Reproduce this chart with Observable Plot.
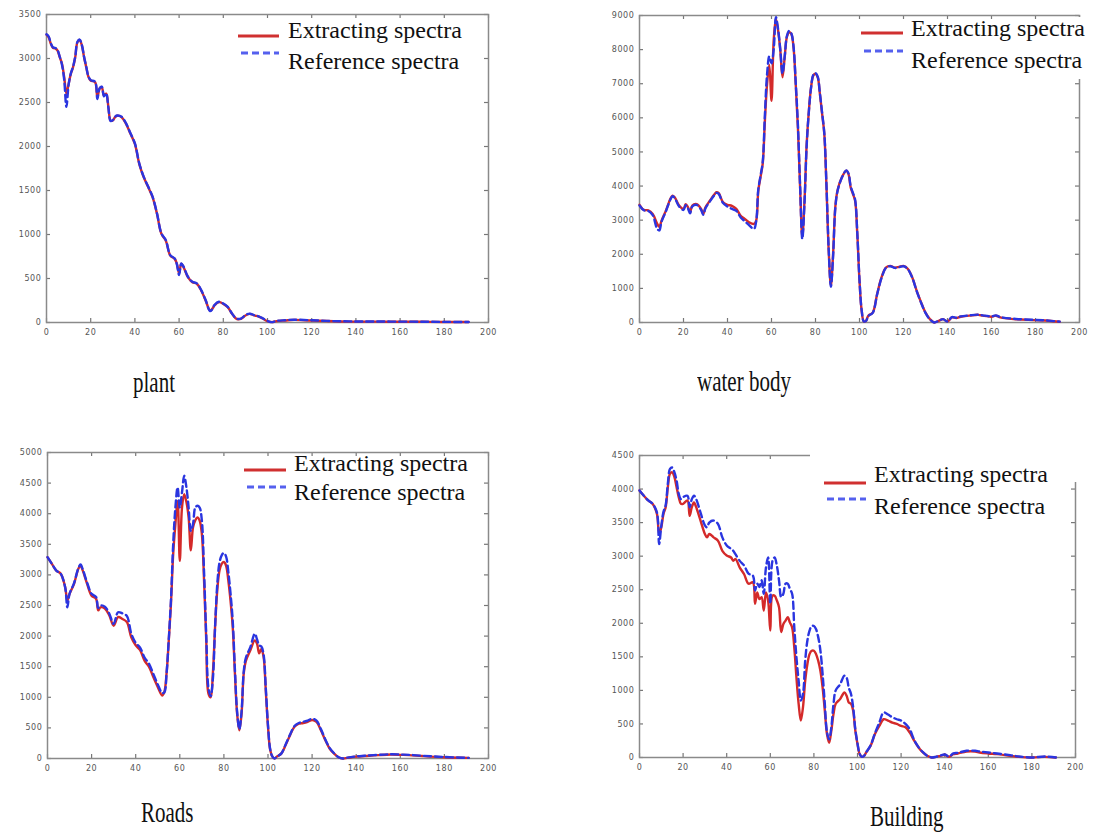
<!DOCTYPE html>
<html>
<head>
<meta charset="utf-8">
<script src="https://cdn.jsdelivr.net/npm/d3@7"></script>
<script src="https://cdn.jsdelivr.net/npm/@observablehq/plot@0.6"></script>
<style>
  html, body { margin: 0; padding: 0; background: #fff; }
  #root { position: relative; width: 1094px; height: 838px; overflow: hidden; background: #fff;
          font-family: "Liberation Serif", "Times New Roman", serif; }
  .panel { position: absolute; }
  .panel svg text { letter-spacing: 0.6px; }
  .caption { position: absolute; font-size: 21px; line-height: 21px; color: #111; white-space: nowrap;
             transform: scaleY(1.42); transform-origin: 0 17.6px; }
  .legtext { position: absolute; font-size: 24px; line-height: 24px; color: #111; white-space: nowrap; }
  .legbg { position: absolute; background: #fff; }
  .swatch { position: absolute; overflow: visible; }
</style>
</head>
<body>
<div id="root"></div>
<script>
// ---------- tick labels ----------
const xTicks = [0, 20, 40, 60, 80, 100, 120, 140, 160, 180, 200];
const plantYTicks = [0, 500, 1000, 1500, 2000, 2500, 3000, 3500];
const waterYTicks = [0, 1000, 2000, 3000, 4000, 5000, 6000, 7000, 8000, 9000];
const roadsYTicks = [0, 500, 1000, 1500, 2000, 2500, 3000, 3500, 4000, 4500, 5000];
const buildingYTicks = [0, 500, 1000, 1500, 2000, 2500, 3000, 3500, 4000, 4500];

const seriesNames = ["Extracting spectra", "Reference spectra"];
const captions = ["plant", "water body", "Roads", "Building"];

// ---------- plant ----------
const plantBands = [
  0,1,2,3,4,5,6,7,8,9,10,11,12,13,14,15,16,17,18,19,20,
  22,23,24,25,26,27,28,29,30,31,32,
  34,36,38,40,42,44,46,48,50,52,54,56,58,
  59,60,61,62,
  64,66,68,70,72,74,
  75,76,78,80,82,84,86,88,90,92,94,96,98,100,102,104,
  108,112,120,130,140,150,160,170,180,191];
const plantExtracting = [
  3270,3240,3165,3120,3115,3090,3015,2940,2790,2600,2710,2825,2900,3015,3185,3210,3150,3015,2900,2790,2750,
  2730,2560,2655,2675,2580,2600,2450,2295,2295,2333,2350,
  2333,2258,2145,2030,1800,1650,1540,1425,1235,1008,930,760,723,
  667,560,667,630,
  515,458,440,364,250,136,
  155,193,231,212,174,98,42,42,80,98,80,68,42,15,4,15,
  23,30,23,15,10,10,8,8,6,5];
const plantReference = [
  3275,3250,3170,3125,3120,3095,3020,2930,2760,2450,2700,2830,2905,3020,3190,3215,3155,3020,2905,2795,2755,
  2735,2540,2660,2680,2570,2605,2440,2290,2300,2338,2352,
  2338,2262,2150,2035,1805,1655,1545,1430,1240,1012,935,765,728,
  660,540,672,635,
  520,462,445,368,255,130,
  150,198,236,216,178,100,45,45,84,100,84,70,45,18,4,18,
  26,32,25,16,12,11,10,9,7,6];

// ---------- water body ----------
const waterBands = [
  0,2,4,6,8,9,10,12,14,15,16,18,20,21,22,23,24,26,28,29,30,32,34,35,36,38,40,42,44,46,48,50,52,53,
  54,55,56,57,58,59,60,61,62,63,64,65,66,67,68,69,70,71,72,73,74,75,76,77,78,79,80,81,82,83,84,85,86,87,88,89,90,
  92,94,95,96,97,98,99,100,101,102,103,104,106,108,110,112,114,116,118,120,122,124,126,128,130,132,134,136,138,140,
  142,144,146,150,154,156,160,162,164,170,180,186,191];
const waterExtracting = [
  3450,3300,3290,3180,2900,2800,2980,3280,3620,3720,3670,3430,3330,3470,3380,3230,3430,3470,3330,3180,3380,3570,3750,3820,3790,3520,3450,3420,3330,3130,3030,2930,2890,2980,
  3870,4260,4650,5920,7000,7550,6500,8270,8900,8560,7980,7190,7780,8370,8510,8460,8070,7000,5720,3960,2500,3570,5240,6210,6900,7240,7290,7190,6700,6120,5530,3960,2100,1080,2010,3380,3870,
  4260,4450,4350,3960,3770,3570,2590,1220,340,30,50,200,290,830,1320,1610,1660,1610,1630,1660,1570,1320,930,590,290,100,0,50,100,30,
  150,130,170,200,225,200,170,200,150,100,70,50,20];
const waterReference = [
  3430,3290,3270,3150,2750,2700,2950,3260,3600,3700,3650,3400,3300,3440,3350,3200,3400,3450,3300,3160,3350,3550,3730,3800,3770,3500,3400,3330,3270,3080,2960,2840,2740,2950,
  3900,4300,4700,6100,7290,7800,7600,8000,8950,8600,8000,7300,7800,8400,8550,8480,8100,7050,5800,4000,2450,3500,5200,6200,6900,7260,7310,7210,6720,6150,5550,4000,2150,1050,1950,3350,3850,
  4250,4460,4370,3990,3800,3600,2620,1250,350,30,50,190,280,820,1300,1600,1650,1600,1620,1650,1560,1310,920,580,280,90,0,50,100,30,
  160,140,180,210,230,210,180,210,160,110,75,55,25];

// ---------- roads ----------
const roadsBands = [
  0,2,4,6,8,9,10,12,14,15,16,18,20,22,23,24,26,28,30,32,34,36,38,40,42,44,46,48,50,52,53,
  54,55,56,57,58,59,60,61,62,63,64,65,66,67,68,69,70,71,72,73,74,75,76,77,78,79,80,81,82,83,84,85,86,87,88,89,90,
  92,94,95,96,97,98,99,100,101,102,103,104,106,108,110,112,114,116,118,120,122,124,126,128,130,132,134,136,
  140,144,150,156,160,164,170,180,191];
const roadsExtracting = [
  3290,3180,3070,3020,2800,2580,2690,2850,3100,3150,3070,2850,2660,2610,2420,2470,2450,2340,2170,2310,2280,2230,1980,1850,1770,1600,1500,1330,1170,1030,1090,
  1390,1930,2530,3340,3830,4210,3230,4100,4320,4190,3940,3400,3780,3890,3940,3890,3670,2910,1930,1060,1000,1390,2150,2750,3070,3180,3210,3150,2910,2580,2150,1390,730,460,730,1390,1600,
  1770,1930,1880,1720,1790,1660,1110,520,140,30,0,30,80,220,380,520,570,580,600,630,600,460,300,160,80,20,0,10,
  30,40,55,65,60,55,40,20,10];
const roadsReference = [
  3290,3180,3070,3020,2800,2470,2690,2860,3110,3170,3090,2870,2690,2640,2460,2500,2480,2370,2200,2390,2370,2330,2040,1890,1810,1650,1550,1380,1210,1070,1080,
  1390,1950,2600,3500,4100,4430,4100,4350,4620,4430,4100,3720,3830,4100,4130,4100,3890,3050,2000,1150,1020,1300,2150,2850,3200,3320,3360,3300,3050,2700,2250,1450,760,480,760,1420,1650,
  1820,2040,1950,1850,1830,1700,1150,540,150,30,0,30,80,230,390,530,580,600,620,650,620,480,310,170,85,20,0,15,
  35,45,60,70,65,60,45,25,10];

// ---------- building ----------
const buildingBands = [
  0,2,4,6,8,
  9,10,11,12,13,14,15,16,17,18,19,20,
  22,23,24,25,26,
  28,30,31,32,34,36,38,40,42,43,44,46,48,50,52,
  53,54,55,56,57,58,59,60,61,62,63,64,65,66,67,68,69,70,71,72,73,74,75,76,77,78,79,80,81,82,83,84,85,86,87,88,89,90,
  92,94,95,96,97,98,99,100,101,102,103,104,
  106,108,110,112,114,116,118,120,122,124,126,128,130,132,134,136,138,140,142,144,146,
  150,154,156,160,164,170,174,180,186,191];
const buildingExtracting = [
  3980,3900,3830,3780,3630,
  3330,3430,3630,3730,4030,4230,4250,4180,4030,3880,3780,3780,
  3830,3600,3730,3800,3730,
  3530,3330,3280,3330,3280,3230,3080,3010,2980,2930,2960,2830,2730,2590,2610,
  2290,2460,2360,2390,2190,2460,2340,1890,2410,2410,2340,2240,1870,1990,2040,2090,2010,1940,1640,1190,800,550,750,1140,1390,1540,1590,1590,1540,1440,1290,1040,700,350,220,400,650,800,
  870,970,920,820,800,700,400,200,50,10,25,75,
  175,350,470,570,550,520,500,470,450,370,250,150,75,25,0,10,25,40,10,50,60,
  90,90,75,60,50,25,10,0,10,0];
const buildingReference = [
  3980,3900,3830,3780,3650,
  3180,3450,3660,3760,4080,4300,4320,4250,4130,3930,3850,3880,
  3900,3730,3850,3900,3850,
  3650,3460,3430,3500,3530,3480,3280,3160,3110,3080,3030,2930,2860,2740,2710,
  2490,2590,2540,2640,2440,2830,2980,2290,2930,2980,2860,2640,2390,2440,2590,2590,2510,2440,1940,1490,1140,850,950,1440,1740,1890,1960,1960,1910,1790,1590,1240,800,380,270,450,800,1000,
  1090,1220,1190,1040,950,750,420,210,55,10,25,80,
  180,360,520,670,640,600,570,550,500,420,260,155,80,25,0,10,30,45,15,60,70,
  100,100,90,75,60,35,15,0,15,0];

// ---------- layout (positions / styles only) ----------
const RED = "#d42a2a", BLUE = "#2a35e0";
const panels = [
  { bands: plantBands, ext: plantExtracting, ref: plantReference, yTicks: plantYTicks, yMax: 3500,
    left: 0, top: 0, width: 498, height: 338, ml: 46, mr: 10, mt: 14, mb: 16,
    caption: { text: captions[0], left: 133, top: 375 },
    legend: { redY: 36, blueY: 53, x1: 238, x2: 279, textLeft: 288, t1: 18, t2: 49 } },
  { bands: waterBands, ext: waterExtracting, ref: waterReference, yTicks: waterYTicks, yMax: 9000,
    left: 590, top: 0, width: 500, height: 338, ml: 49, mr: 11, mt: 15, mb: 16,
    caption: { text: captions[1], left: 697, top: 374 },
    legend: { redY: 33, blueY: 51, x1: 861, x2: 903, textLeft: 911, t1: 16, t2: 48,
              bg: { left: 1070, top: 17, width: 24, height: 62 } } },
  { bands: roadsBands, ext: roadsExtracting, ref: roadsReference, yTicks: roadsYTicks, yMax: 5000,
    left: 0, top: 440, width: 498, height: 336, ml: 47, mr: 10, mt: 12, mb: 18,
    caption: { text: captions[2], left: 141, top: 805 },
    legend: { redY: 470, blueY: 487, x1: 244, x2: 286, textLeft: 294, t1: 451, t2: 480 } },
  { bands: buildingBands, ext: buildingExtracting, ref: buildingReference, yTicks: buildingYTicks, yMax: 4500,
    left: 590, top: 440, width: 496, height: 336, ml: 49, mr: 11, mt: 15, mb: 19,
    caption: { text: captions[3], left: 870, top: 809 },
    legend: { redY: 483, blueY: 499, x1: 824, x2: 866, textLeft: 874, t1: 462, t2: 494,
              bg: { left: 810, top: 452, width: 284, height: 30 } } }
];

const root = document.getElementById("root");

function makePlot(p) {
  const innerH = p.height - p.mt - p.mb;
  const innerW = p.width - p.ml - p.mr;
  const tickLen = 4;
  return Plot.plot({
    width: p.width, height: p.height,
    marginLeft: p.ml, marginRight: p.mr, marginTop: p.mt, marginBottom: p.mb,
    x: { domain: [0, 200] },
    y: { domain: [0, p.yMax] },
    style: { background: "transparent", fontFamily: "DejaVu Sans, sans-serif", fontSize: "8px", overflow: "visible" },
    marks: [
      Plot.axisX({ ticks: xTicks, tickSize: 0, tickPadding: 7, label: null, tickFormat: d3.format("d"), fill: "#555" }),
      Plot.axisY({ ticks: p.yTicks, tickSize: 0, tickPadding: 5, label: null, tickFormat: d3.format("d"), fill: "#555" }),
      Plot.tickX(xTicks, { x: d => d, insetTop: innerH - tickLen, stroke: "#777", strokeWidth: 1.2 }),
      Plot.tickX(xTicks, { x: d => d, insetBottom: innerH - tickLen, stroke: "#777", strokeWidth: 1.2 }),
      Plot.tickY(p.yTicks, { y: d => d, insetRight: innerW - tickLen, stroke: "#777", strokeWidth: 1.2 }),
      Plot.tickY(p.yTicks, { y: d => d, insetLeft: innerW - tickLen, stroke: "#777", strokeWidth: 1.2 }),
      Plot.frame({ stroke: "#8a8a8a", strokeWidth: 1.5 }),
      Plot.line(p.ext, { x: p.bands, y: p.ext, stroke: RED, strokeWidth: 2.4, curve: "catmull-rom" }),
      Plot.line(p.ref, { x: p.bands, y: p.ref, stroke: BLUE, strokeWidth: 2.4, strokeDasharray: "7,4", curve: "catmull-rom" })
    ]
  });
}

function swatch(x1, x2, y, color, dash) {
  const ns = "http://www.w3.org/2000/svg";
  const s = document.createElementNS(ns, "svg");
  s.setAttribute("class", "swatch");
  s.setAttribute("width", x2 - x1);
  s.setAttribute("height", 6);
  s.style.left = x1 + "px";
  s.style.top = (y - 3) + "px";
  const l = document.createElementNS(ns, "line");
  l.setAttribute("x1", 0); l.setAttribute("x2", x2 - x1);
  l.setAttribute("y1", 3); l.setAttribute("y2", 3);
  l.setAttribute("stroke", color);
  l.setAttribute("stroke-width", 3);
  if (dash) l.setAttribute("stroke-dasharray", dash);
  s.appendChild(l);
  return s;
}

for (const p of panels) {
  const holder = document.createElement("div");
  holder.className = "panel";
  holder.style.left = p.left + "px";
  holder.style.top = p.top + "px";
  holder.appendChild(makePlot(p));
  root.appendChild(holder);

  const L = p.legend;
  if (L.bg) {
    const bg = document.createElement("div");
    bg.className = "legbg";
    Object.assign(bg.style, { left: L.bg.left + "px", top: L.bg.top + "px", width: L.bg.width + "px", height: L.bg.height + "px" });
    root.appendChild(bg);
  }
  root.appendChild(swatch(L.x1, L.x2, L.redY, "#d03030", null));
  root.appendChild(swatch(L.x1 + 3, L.x2, L.blueY, "#5560ee", "7,4"));
  [seriesNames[0], seriesNames[1]].forEach((name, i) => {
    const t = document.createElement("div");
    t.className = "legtext";
    t.textContent = name;
    t.style.left = L.textLeft + "px";
    t.style.top = (i === 0 ? L.t1 : L.t2) + "px";
    root.appendChild(t);
  });

  const c = document.createElement("div");
  c.className = "caption";
  c.textContent = p.caption.text;
  c.style.left = p.caption.left + "px";
  c.style.top = p.caption.top + "px";
  root.appendChild(c);
}
</script>
</body>
</html>
